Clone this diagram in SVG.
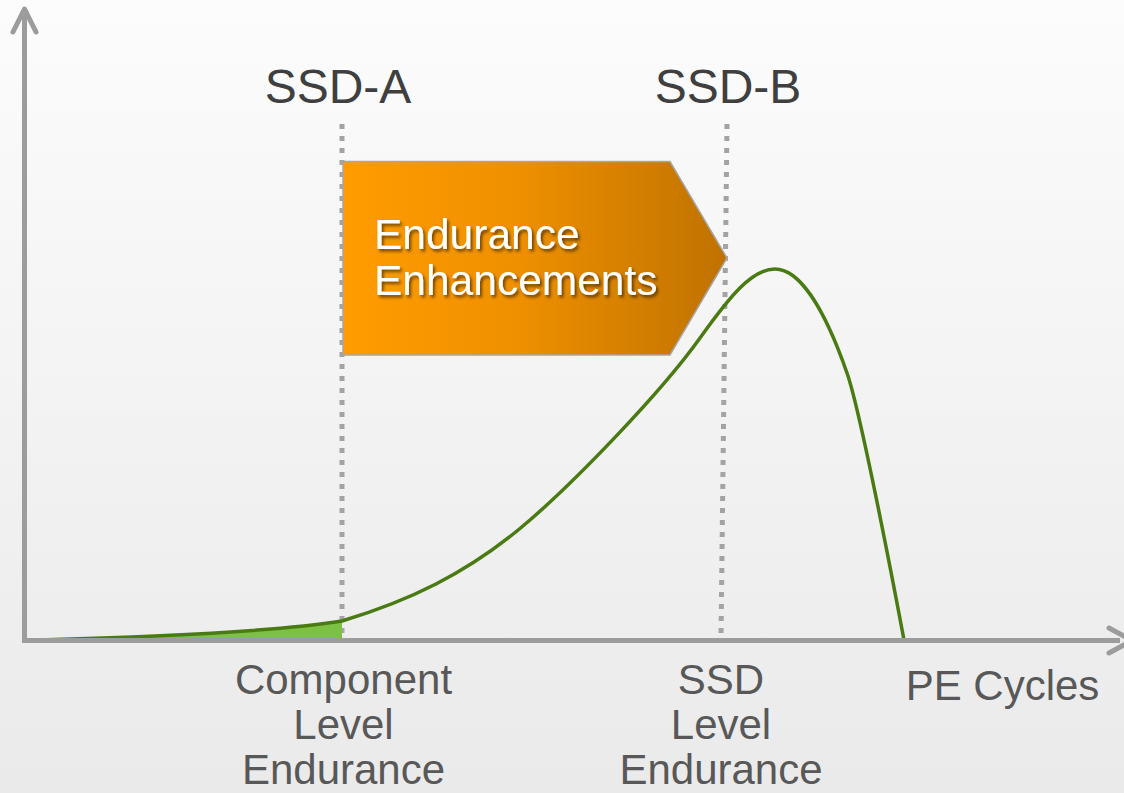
<svg xmlns="http://www.w3.org/2000/svg" width="1124" height="793" viewBox="0 0 1124 793">
  <defs>
    <linearGradient id="bg" x1="0" y1="0" x2="0" y2="1">
      <stop offset="0" stop-color="#fcfcfc"/>
      <stop offset="1" stop-color="#eaeaea"/>
    </linearGradient>
    <linearGradient id="orange" x1="0" y1="0" x2="1" y2="0">
      <stop offset="0" stop-color="#ff9c00"/>
      <stop offset="0.45" stop-color="#ef9000"/>
      <stop offset="1" stop-color="#bf7200"/>
    </linearGradient>
    <filter id="shadow" x="-10%" y="-30%" width="120%" height="160%">
      <feDropShadow dx="2" dy="2.5" stdDeviation="1.5" flood-color="#000" flood-opacity="0.55"/>
    </filter>
    <style>
      .axis { stroke: #9c9c9c; stroke-width: 5; fill: none; }
      .head { stroke: #9c9c9c; stroke-width: 5; fill: none; stroke-linecap: round; stroke-linejoin: round; }
      .dash { stroke: #a3a3a3; stroke-width: 5; stroke-dasharray: 5 7; fill: none; }
      .curve { stroke: #4a7a12; stroke-width: 3.5; fill: none; }
      .top { font-family: "Liberation Sans", Arial, sans-serif; font-size: 48px; fill: #3f3f3f; text-anchor: middle; }
      .lbl { font-family: "Liberation Sans", Arial, sans-serif; font-size: 42px; fill: #585858; text-anchor: middle; }
      .box { font-family: "Liberation Sans", Arial, sans-serif; font-size: 42.5px; fill: #ffffff; }
    </style>
  </defs>
  <rect x="0" y="0" width="1124" height="793" fill="url(#bg)"/>

  <g id="markers">
    <line class="dash" x1="342" y1="124" x2="342" y2="640"/>
    <line class="dash" x1="727" y1="124" x2="721" y2="640"/>
  </g>

  <g id="enhancements">
    <path d="M343,161.5 L670,161.5 L727,258 L670,355 L343,355 Z" fill="url(#orange)" stroke="#a6a6a6" stroke-width="1.5"/>
    <text class="box" filter="url(#shadow)"><tspan x="374" y="249">Endurance</tspan><tspan x="374" y="295">Enhancements</tspan></text>
  </g>

  <g id="distribution">
    <path d="M38,640 C150,637 280,631 342,621 L342,640 Z" fill="#7cc143"/>
    <path class="curve" d="M38,640 C150,637 280,631 342,621 C405,602 467,575 530,520 C575,481 660,394 700,338 C730,296 752,269 775,269 C800,269 825,310 847,373 C860,410 892,576 904,640"/>
  </g>

  <g id="connectors">
    <path class="axis" d="M24.5,14 L24.5,640.5 L1120,640.5"/>
    <path class="head" d="M13,32 L24.5,9 L36,32"/>
    <path class="head" d="M1109,628 L1132,640.5 L1109,653"/>
  </g>

  <g id="label-ssd-a"><text class="top" x="338" y="103">SSD-A</text></g>
  <g id="label-ssd-b"><text class="top" x="728" y="103">SSD-B</text></g>
  <g id="label-component">
    <text class="lbl"><tspan x="343.5" y="694">Component</tspan><tspan x="343.5" y="739">Level</tspan><tspan x="343.5" y="784">Endurance</tspan></text>
  </g>
  <g id="label-ssd">
    <text class="lbl"><tspan x="721" y="694">SSD</tspan><tspan x="721" y="739">Level</tspan><tspan x="721" y="784">Endurance</tspan></text>
  </g>
  <g id="label-pe"><text class="lbl" x="1002.5" y="700">PE Cycles</text></g>
</svg>
